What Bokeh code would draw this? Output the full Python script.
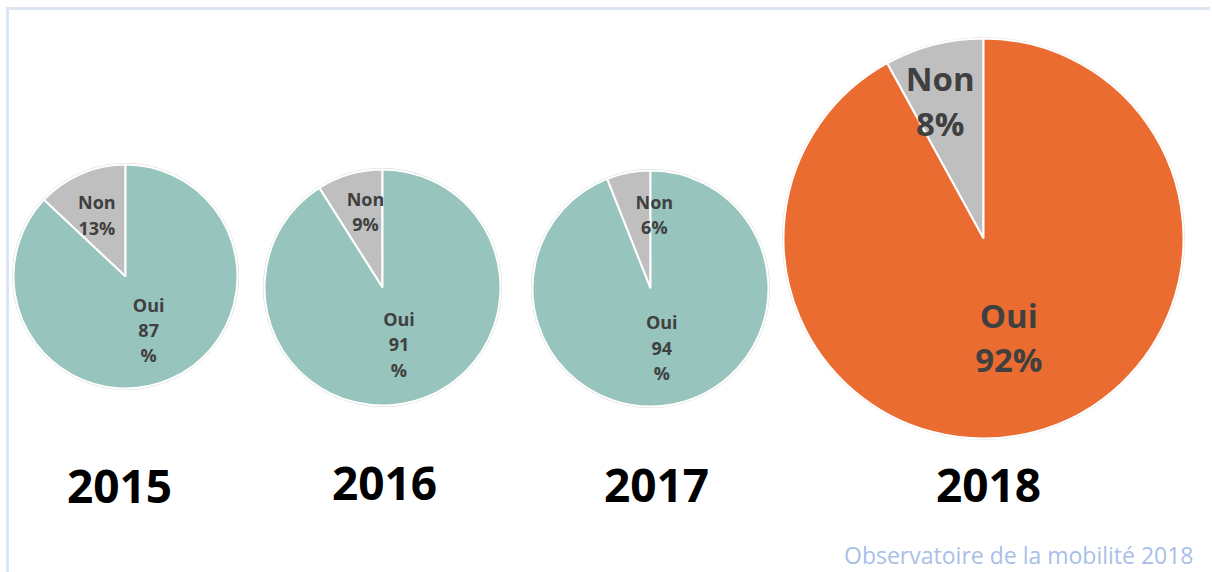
import numpy as np
from bokeh.plotting import figure
from bokeh.models import Range1d
from bokeh.core.properties import value
from bokeh.embed import file_html
from bokeh.resources import INLINE

# ---- data ----
years = ["2015", "2016", "2017", "2018"]
oui = [87, 91, 94, 92]
non = [13, 9, 6, 8]
oui_labels = ["Oui\n87\n%", "Oui\n91\n%", "Oui\n94\n%", "Oui\n92%"]
non_labels = ["Non\n13%", "Non\n9%", "Non\n6%", "Non\n8%"]
source_note = "Observatoire de la mobilité 2018"

# ---- layout / style (pixel coordinates from the top-left corner) ----
W, H = 1210, 572
cx = [125, 382, 650, 983]
cy = [276, 287, 288, 238]
radius = [112, 118, 118, 200]
year_x = [119, 384, 656, 988]
year_y = [486, 483, 485, 485]
label_size = [18, 18, 18, 33]
label_lh = [1.06, 1.06, 1.06, 0.98]
non_frac = [0.6, 0.67, 0.64, 0.71]
non_nudge = [-2, 5, 18, -8]
oui_frac = [0.52, 0.5, 0.51, 0.51]
oui_colors = ["#97c4bd", "#97c4bd", "#97c4bd", "#eb6c30"]
non_color = "#bfbfbf"
label_color = "#404040"
FONT = "Open Sans"


def Y(py):
    return H - py


p = figure(width=W, height=H, output_backend="svg", toolbar_location=None,
           x_range=Range1d(0, W), y_range=Range1d(0, H),
           min_border=0)
p.axis.visible = False
p.grid.visible = False
p.outline_line_color = None
p.background_fill_color = "white"
p.border_fill_color = "white"

# light frame (top and left)
p.segment(x0=[6, 7], y0=[Y(8), Y(7)], x1=[W, 7], y1=[Y(8), 0],
          line_color="#dce7f3", line_width=3)

for i in range(len(years)):
    a0 = np.pi / 2
    a_non = a0 + 2 * np.pi * non[i] / 100.0
    a_end = a_non + 2 * np.pi * oui[i] / 100.0
    x, y, r = cx[i], Y(cy[i]), radius[i]
    p.circle(x=[x], y=[y], radius=r + 1, fill_color=None,
             line_color="#d6d6d6", line_width=1)
    p.wedge(x=[x, x], y=[y, y], radius=r,
            start_angle=[a0, a_non], end_angle=[a_non, a_end],
            fill_color=[non_color, oui_colors[i]],
            line_color="white", line_width=2)
    m_non = (a0 + a_non) / 2
    m_oui = (a_non + a_end) / 2
    nx = x + non_frac[i] * r * np.cos(m_non) + non_nudge[i]
    ny = y + non_frac[i] * r * np.sin(m_non)
    ox = x + oui_frac[i] * r * np.cos(m_oui)
    oy = y + oui_frac[i] * r * np.sin(m_oui)
    p.text(x=[nx, ox], y=[ny, oy], text=[non_labels[i], oui_labels[i]],
           text_font=value(FONT), text_font_style="bold",
           text_font_size=f"{label_size[i]}px", text_color=label_color,
           text_align="center", text_baseline="middle",
           text_line_height=label_lh[i])
    p.text(x=[year_x[i]], y=[Y(year_y[i])], text=[years[i]],
           text_font=value(FONT), text_font_style="bold",
           text_font_size="46px", text_color="#000000",
           text_align="center", text_baseline="middle")

p.text(x=[1193], y=[Y(554)], text=[source_note], text_font=value(FONT),
       text_font_size="23px", text_color="#a8c0e6",
       text_align="right", text_baseline="middle")

open("out.html", "w").write(file_html(p, INLINE))
